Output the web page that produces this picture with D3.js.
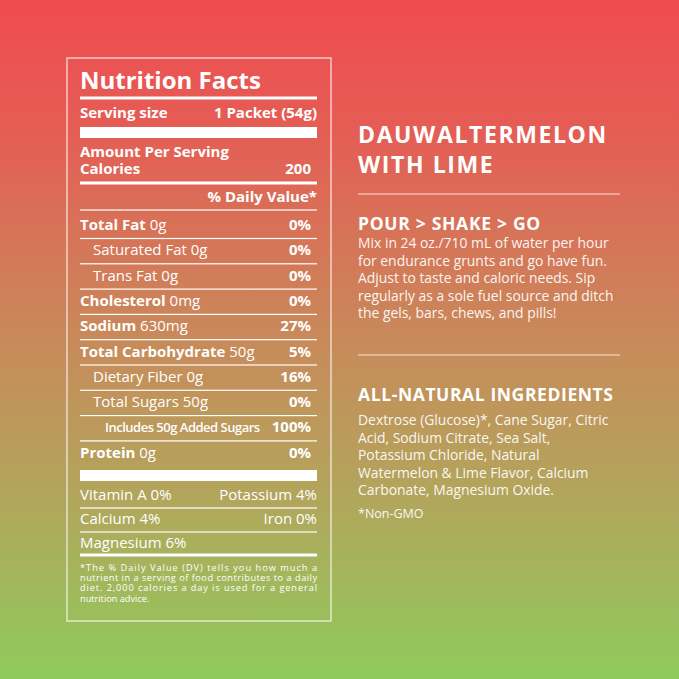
<!DOCTYPE html>
<html><head><meta charset="utf-8">
<script src="https://cdn.jsdelivr.net/npm/d3@7"></script>
<style>body{margin:0}svg{display:block}text{font-family:"Open Sans",sans-serif;fill:#fff}</style>
</head><body><svg id="c" width="679" height="679"></svg>
<script>
const rowLabels=["Total Fat","Saturated Fat","Trans Fat","Cholesterol","Sodium","Total Carbohydrate","Dietary Fiber","Total Sugars","Includes 50g Added Sugars","Protein"];
const rowAmounts=["0g","0g","0g","0mg","630mg","50g","0g","50g","","0g"];
const rowDV=["0%","0%","0%","0%","27%","5%","16%","0%","100%","0%"];
const rowIndent=[0,1,1,0,0,0,1,1,2,0];
const vitLeft=["Vitamin A 0%","Calcium 4%","Magnesium 6%"];
const vitRight=["Potassium 4%","Iron 0%",""];
const footnote=["*The % Daily Value (DV) tells you how much a","nutrient in a serving of food contributes to a daily","diet. 2,000 calories a day is used for a general","nutrition advice."];
const howTo=["Mix in 24 oz./710 mL of water per hour","for endurance grunts and go have fun.","Adjust to taste and caloric needs. Sip","regularly as a sole fuel source and ditch","the gels, bars, chews, and pills!"];
const ingredients=["Dextrose (Glucose)*, Cane Sugar, Citric","Acid, Sodium Citrate, Sea Salt,","Potassium Chloride, Natural","Watermelon & Lime Flavor, Calcium","Carbonate, Magnesium Oxide."];

const svg=d3.select("#c");
const defs=svg.append("defs");
const g=defs.append("linearGradient").attr("id","bg").attr("x1",0).attr("y1",0).attr("x2",0).attr("y2",1);
[[0,"#f04b50"],[0.2,"#e45e55"],[0.5,"#c88a5a"],[0.75,"#b0a85c"],[1,"#8fcb5c"]].forEach(s=>g.append("stop").attr("offset",s[0]).attr("stop-color",s[1]));
svg.append("rect").attr("width",679).attr("height",679).attr("fill","url(#bg)");

const L=80,R=317;
svg.append("rect").attr("x",67).attr("y",58).attr("width",264).attr("height",563).attr("fill","none").attr("stroke","#fff").attr("stroke-opacity",0.85).attr("stroke-width",1.2);
const line=(y,w)=>svg.append("rect").attr("x",L).attr("y",y-w/2).attr("width",R-L).attr("height",w).attr("fill","#fff");
const txt=(x,y,s,size,weight,anchor)=>svg.append("text").attr("x",x).attr("y",y).attr("font-size",size).attr("font-weight",weight||400).attr("text-anchor",anchor||"start").text(s);

txt(L,89,"Nutrition Facts",24,700);
line(98,3);
txt(L,118,"Serving size",15,700);txt(R,118,"1 Packet (54g)",15,700,"end");
svg.append("rect").attr("x",L).attr("y",127).attr("width",R-L).attr("height",11).attr("fill","#fff");
txt(L,157,"Amount Per Serving",15,700);txt(L,174,"Calories",15,700);txt(311,174,"200",15,700,"end");
line(183,3);
txt(R,202,"% Daily Value*",15,700,"end");
line(210,1.2);

const y=d3.scaleLinear().domain([0,1]).range([230,255.3]);
rowLabels.forEach((lab,i)=>{
  const by=y(i);
  const ind=[0,13,4][rowIndent[i]];
  const bold=rowIndent[i]===0;
  const fs=rowIndent[i]===2?13:15;
  const t=svg.append("text").attr("x",L+ind+(rowIndent[i]===2?21:0)).attr("y",by).attr("font-size",fs).attr("letter-spacing",rowIndent[i]===2?-0.5:0);
  if(rowIndent[i]===2){t.attr("font-weight",600).text(lab);}
  else{t.append("tspan").attr("font-weight",bold?700:400).text(lab);
    t.append("tspan").text(" "+rowAmounts[i]);}
  txt(311,by,rowDV[i],15,700,"end");
  if(i<rowLabels.length-1) line(by+8.5,1.2);
});
svg.append("rect").attr("x",L).attr("y",470).attr("width",R-L).attr("height",11).attr("fill","#fff");
const yv=d3.scaleLinear().domain([0,1]).range([500,524]);
vitLeft.forEach((s,i)=>{txt(L,yv(i),s,15,400);txt(R,yv(i),vitRight[i],15,400,"end");if(i<2)line(yv(i)+8,1.2);});
line(555,3);
footnote.forEach((s,i)=>{const t=txt(L,571+i*10.2,s,9.2,400);if(i<3)t.attr("textLength",R-L).attr("lengthAdjust","spacing");});

const X=358;
txt(X,143,"DAUWALTERMELON",23,700).attr("letter-spacing",1.6);
txt(X,173,"WITH LIME",23,700).attr("letter-spacing",1.6);
svg.append("rect").attr("x",X).attr("y",193.5).attr("width",262).attr("height",1).attr("fill","#fff").attr("opacity",0.8);
txt(X,230,"POUR > SHAKE > GO",17.5,700).attr("letter-spacing",0.7);
howTo.forEach((s,i)=>txt(X,248+i*17.6,s,13.9,400).attr("opacity",0.92));
svg.append("rect").attr("x",X).attr("y",354.5).attr("width",262).attr("height",1).attr("fill","#fff").attr("opacity",0.8);
txt(X,401,"ALL-NATURAL INGREDIENTS",17.5,700).attr("letter-spacing",0.6);
ingredients.forEach((s,i)=>txt(X,425+i*17.6,s,13.9,400).attr("opacity",0.92));
txt(X,518,"*Non-GMO",12.5,400).attr("opacity",0.92);
</script></body></html>
